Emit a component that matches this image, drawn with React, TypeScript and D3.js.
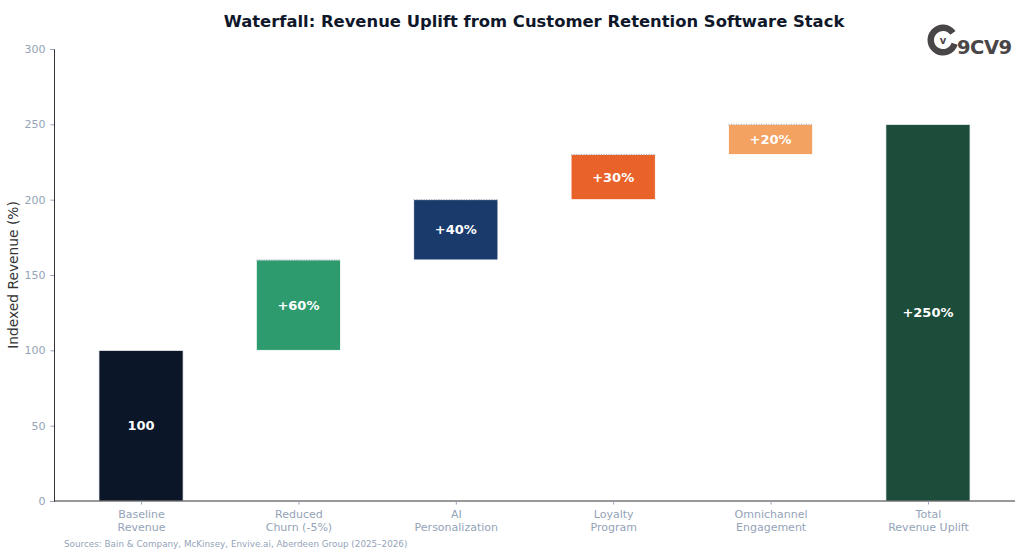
import React, { useEffect, useRef } from 'react';
import * as d3 from 'd3';

const categories = [
  'Baseline\nRevenue',
  'Reduced\nChurn (-5%)',
  'AI\nPersonalization',
  'Loyalty\nProgram',
  'Omnichannel\nEngagement',
  'Total\nRevenue Uplift',
];
const deltas = [100, 60, 40, 30, 20, 250];
const labels = ['100', '+60%', '+40%', '+30%', '+20%', '+250%'];
const colors = ['#0b1628', '#2e9b6f', '#1a3a6b', '#e8622a', '#f4a261', '#1b4d3a'];
const yTicks = [0, 50, 100, 150, 200, 250, 300];

const W = 1024;
const H = 556;
const margin = { top: 49, right: 9, bottom: 55, left: 54 };
const FONT = 'DejaVu Sans, sans-serif';

export default function App() {
  const ref = useRef<SVGSVGElement | null>(null);

  useEffect(() => {
    if (!ref.current) return;
    const svg = d3.select(ref.current);
    svg.selectAll('*').remove();

    const innerW = W - margin.left - margin.right;
    const innerH = H - margin.top - margin.bottom;

    // running totals: first and last bars start at zero, the rest float
    let running = 0;
    const bars = deltas.map((d, i) => {
      const last = i === deltas.length - 1;
      const base = i === 0 || last ? 0 : running;
      const top = base + d;
      if (!last) running = top;
      return { i, base, top, floating: i > 0 && !last };
    });

    const x = d3.scaleLinear().domain([-0.553, 5.553]).range([0, innerW]);
    const y = d3.scaleLinear().domain([0, 300]).range([innerH, 0]);
    const bw = x(0.535) - x(0);

    svg.append('rect').attr('width', W).attr('height', H).attr('fill', '#ffffff');

    svg.append('text')
      .attr('x', 534).attr('y', 27)
      .attr('text-anchor', 'middle')
      .attr('font-family', FONT).attr('font-weight', 'bold')
      .attr('font-size', 16.4).attr('fill', '#0f172a')
      .text('Waterfall: Revenue Uplift from Customer Retention Software Stack');

    const g = svg.append('g').attr('transform', `translate(${margin.left},${margin.top})`);

    const bar = g.selectAll('.bar').data(bars).enter().append('g');

    bar.append('rect')
      .attr('x', d => x(d.i) - bw / 2)
      .attr('y', d => y(d.top))
      .attr('width', bw)
      .attr('height', d => y(d.base) - y(d.top))
      .attr('fill', d => colors[d.i])
      .attr('stroke', '#ffffff')
      .attr('stroke-width', 0.8);

    // dotted connector marking the previous level on the floating bars
    bar.filter(d => d.floating)
      .append('line')
      .attr('x1', d => x(d.i) - bw / 2)
      .attr('x2', d => x(d.i) + bw / 2)
      .attr('y1', d => y(d.top))
      .attr('y2', d => y(d.top))
      .attr('stroke', '#a0a8b4')
      .attr('stroke-width', 1)
      .attr('stroke-dasharray', '1,1.5');

    bar.append('text')
      .attr('x', d => x(d.i))
      .attr('y', d => y((d.base + d.top) / 2))
      .attr('dy', '0.36em')
      .attr('text-anchor', 'middle')
      .attr('font-family', FONT).attr('font-weight', 'bold')
      .attr('font-size', 13).attr('fill', '#ffffff')
      .text(d => labels[d.i]);

    // y axis
    const yAxis = g.append('g')
      .call(d3.axisLeft(y).tickValues(yTicks).tickSize(3.5).tickPadding(5));
    yAxis.select('.domain').attr('stroke', '#333333').attr('stroke-width', 1);
    yAxis.selectAll('.tick line').attr('stroke', '#94a3b8');
    yAxis.selectAll('.tick text')
      .attr('font-family', FONT).attr('font-size', 11).attr('fill', '#94a3b8');

    // x axis
    const xAxis = g.append('g')
      .attr('transform', `translate(0,${innerH})`)
      .call(d3.axisBottom(x).tickValues(d3.range(categories.length)).tickSize(3.5).tickFormat(() => ''));
    xAxis.select('.domain').attr('stroke', '#333333').attr('stroke-width', 1)
      .attr('d', `M0,0H${innerW}`);
    xAxis.selectAll('.tick line').attr('stroke', '#94a3b8');
    xAxis.selectAll('.tick').each(function (_, i) {
      const t = d3.select(this).append('text')
        .attr('text-anchor', 'middle')
        .attr('font-family', FONT).attr('font-size', 11).attr('fill', '#94a3b8');
      categories[i].split('\n').forEach((line, k) => {
        t.append('tspan').attr('x', 0).attr('y', 17 + k * 13).text(line);
      });
    });

    g.append('text')
      .attr('transform', `translate(-36,${innerH / 2}) rotate(-90)`)
      .attr('text-anchor', 'middle')
      .attr('font-family', FONT).attr('font-size', 13.8).attr('fill', '#333333')
      .text('Indexed Revenue (%)');

    svg.append('text')
      .attr('x', 64).attr('y', 547)
      .attr('font-family', FONT).attr('font-size', 8.8).attr('fill', '#94a3b8')
      .text('Sources: Bain & Company, McKinsey, Envive.ai, Aberdeen Group (2025–2026)');

    // 9CV9 logo
    const logo = svg.append('g').attr('transform', 'translate(943,40)');
    const arc = d3.arc()({
      innerRadius: 9,
      outerRadius: 15.5,
      startAngle: 0.6 * Math.PI,
      endAngle: 2.3 * Math.PI,
    } as any);
    logo.append('path').attr('d', arc as string).attr('fill', '#4a4546');
    logo.append('text')
      .attr('x', 0).attr('y', 4)
      .attr('text-anchor', 'middle')
      .attr('font-family', FONT).attr('font-weight', 'bold')
      .attr('font-size', 10).attr('fill', '#4a4546')
      .text('v');
    logo.append('text')
      .attr('x', 14).attr('y', 14)
      .attr('font-family', FONT).attr('font-weight', 'bold')
      .attr('font-size', 19.5).attr('fill', '#4a4546')
      .attr('letter-spacing', -0.5)
      .text('9CV9');
  }, []);

  return <svg ref={ref} width={W} height={H} style={{ display: 'block', position: 'absolute', left: 0, top: 0 }} />;
}
